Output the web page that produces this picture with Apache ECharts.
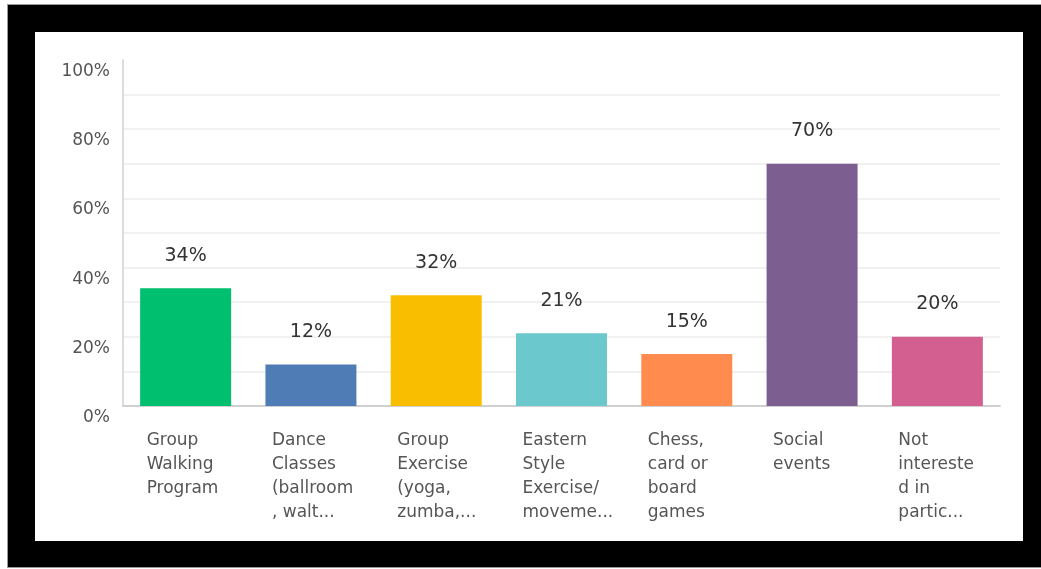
<!DOCTYPE html>
<html>
<head>
<meta charset="utf-8">
<script src="https://cdn.jsdelivr.net/npm/echarts@6/dist/echarts.min.js"></script>
<style>
  html, body { margin: 0; padding: 0; background: #fff; width: 1041px; height: 569px; overflow: hidden; }
  #frame { position: absolute; left: 8px; top: 5px; width: 1033px; height: 562px; background: #000; box-shadow: 0 0 0 1px #999; }
  #chart { position: absolute; left: 35px; top: 32px; width: 988px; height: 509px; background: #fff; }
</style>
</head>
<body>
<div id="frame"></div>
<div id="chart"></div>
<script>
const categories = [
  "Group\nWalking\nProgram",
  "Dance\nClasses\n(ballroom\n, walt...",
  "Group\nExercise\n(yoga,\nzumba,...",
  "Eastern\nStyle\nExercise/\nmoveme...",
  "Chess,\ncard or\nboard\ngames",
  "Social\nevents",
  "Not\nintereste\nd in\npartic..."
];
const values = [34, 12, 32, 21, 15, 70, 20];
const colors = ["#00BF6F", "#507CB6", "#F9BE00", "#6BC8CD", "#FF8B4F", "#7D5E90", "#D25F90"];
const yTickLabels = { 0: "0%", 20: "20%", 40: "40%", 60: "60%", 80: "80%", 100: "100%" };

const FONT = "'DejaVu Sans', sans-serif";
const chart = echarts.init(document.getElementById('chart'), null, { renderer: 'canvas' });
chart.setOption({
  animation: false,
  grid: { left: 88, right: 23, top: 28, bottom: 135, containLabel: false },
  xAxis: {
    type: 'category',
    data: categories,
    axisLine: { show: true, lineStyle: { color: '#d0d0d0', width: 2 } },
    axisTick: { show: false },
    axisLabel: {
      interval: 0,
      margin: 23,
      align: 'center',
      width: 78,
      formatter: function (v) {
        return v.split('\n').map(function (l) { return '{a|' + l + '}'; }).join('\n');
      },
      rich: {
        a: { align: 'left', fontFamily: FONT, fontSize: 17, color: '#555', lineHeight: 24 }
      }
    }
  },
  yAxis: {
    type: 'value',
    min: 0,
    max: 100,
    interval: 10,
    axisLine: { show: true, lineStyle: { color: '#dcdcdc', width: 2 } },
    axisTick: { show: false },
    splitLine: { show: true, showMaxLine: false, lineStyle: { color: '#ececec', width: 1.5 } },
    axisLabel: {
      margin: 13,
      verticalAlign: 'top',
      padding: [3, 0, 0, 0],
      fontFamily: FONT,
      fontSize: 17,
      color: '#555',
      formatter: function (v) { return yTickLabels[v] !== undefined ? yTickLabels[v] : ''; }
    }
  },
  series: [{
    type: 'bar',
    data: values.map(function (v, i) { return { value: v, itemStyle: { color: colors[i] } }; }),
    barWidth: 91,
    label: {
      show: true,
      position: 'top',
      distance: 23,
      fontFamily: FONT,
      fontSize: 19,
      color: '#333',
      formatter: '{c}%'
    }
  }]
});
</script>
</body>
</html>
